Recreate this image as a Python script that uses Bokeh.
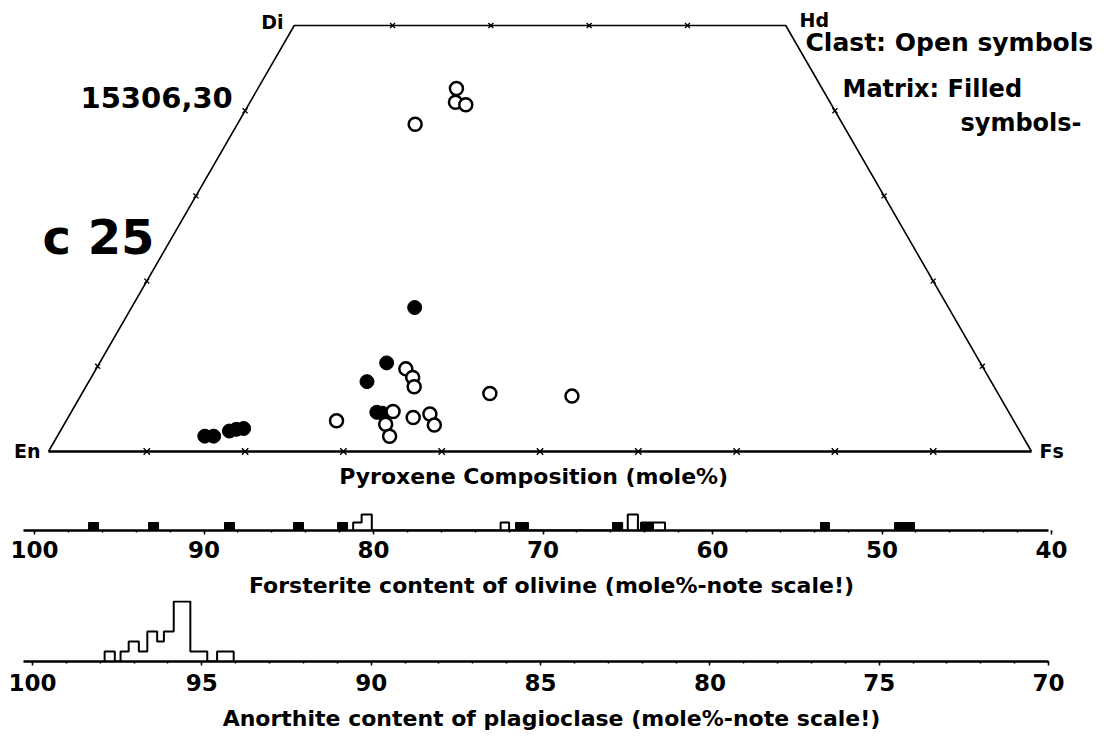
from bokeh.plotting import figure
from bokeh.models import Range1d, Label, FixedTicker
from bokeh.layouts import column
from bokeh.embed import file_html
from bokeh.resources import INLINE

FONT = "DejaVu Sans"

# ---------------- data ----------------
# quadrilateral corners, composition in mole % (Wo, Fs)
corner_names = ["En", "Di", "Hd", "Fs"]
corner_wo = [0, 50, 50, 0]
corner_fs = [0, 0, 50, 100]

# edge tick values (mole %)
bottom_fs_ticks = [10, 20, 30, 40, 50, 60, 70, 80, 90]
top_fs_ticks = [10, 20, 30, 40]
side_wo_ticks = [10, 20, 30, 40]

# pyroxenes in clast (open symbols)
clast_wo = [42.6, 41.0, 40.7, 38.4, 3.6, 9.7, 8.7, 7.6, 4.7, 3.2, 1.8, 4.0, 4.4, 3.1, 6.8, 6.5]
clast_fs = [20.2, 20.9, 22.1, 18.1, 27.5, 31.5, 32.7, 33.4, 32.7, 32.7, 33.8, 35.1, 36.6, 37.7, 41.5, 50.0]
# pyroxenes in matrix (filled symbols)
matrix_wo = [1.8, 1.8, 2.4, 2.6, 2.7, 16.9, 10.4, 8.2, 4.6, 4.5]
matrix_fs = [15.0, 15.9, 17.2, 17.8, 18.5, 28.8, 29.2, 28.3, 31.1, 31.7]

# olivine, forsterite content (mole %)
fo_ticks = [100, 90, 80, 70, 60, 50, 40]
ol_matrix_left = [96.81, 93.27, 88.79, 84.72, 82.12, 71.62, 65.90, 64.25, 53.63, 49.26]
ol_matrix_right = [96.22, 92.68, 88.20, 84.13, 81.53, 70.86, 65.30, 63.48, 53.10, 48.08]
ol_matrix_count = [1, 1, 1, 1, 1, 1, 1, 1, 1, 1]
ol_clast_edges = [81.20, 80.70, 80.10, 72.50, 72.00, 65.00, 64.40, 64.20, 62.80]
ol_clast_count = [1, 2, 0, 1, 0, 2, 0, 1]

# plagioclase, anorthite content (mole %)
an_ticks = [100, 95, 90, 85, 80, 75, 70]
pl_edges = [97.87, 97.57, 97.40, 97.16, 96.86, 96.61, 96.32, 96.12, 95.83, 95.34, 94.84, 94.55, 94.06]
pl_count = [1, 0, 1, 2, 1, 3, 2, 3, 6, 1, 0, 1]


def qx(wo, fs):
    # horizontal coordinate of the (equilateral) pyroxene quadrilateral
    return [f + w / 2.0 for w, f in zip(wo, fs)]


# --------------- pyroxene quadrilateral ---------------
PX, PY = 9.83, 8.52   # px per mole % along En-Fs, px per Wo
OX, OY = 48, 451      # En corner within the figure
W, H1 = 1102, 508


def sx(v):
    return (v - OX) / PX


def sy(v):
    return (OY - v) / PY


p1 = figure(width=W, height=H1, x_axis_type=None, y_axis_type=None,
            x_range=Range1d(sx(0), sx(W)), y_range=Range1d(sy(H1), sy(0)),
            toolbar_location=None, output_backend="svg",
            min_border=0, outline_line_color=None,
            background_fill_color="white", border_fill_color="white")

cx = qx(corner_wo, corner_fs)
p1.line(cx, corner_wo, line_color="black", line_width=1.6)
p1.line([cx[3], cx[0]], [corner_wo[3], corner_wo[0]], line_color="black", line_width=2.6)

tick_kw = dict(marker="x", line_color="black", line_width=1.4)
p1.scatter(qx([0] * len(bottom_fs_ticks), bottom_fs_ticks), [0] * len(bottom_fs_ticks), size=9, **tick_kw)
p1.scatter(qx([50] * len(top_fs_ticks), top_fs_ticks), [50] * len(top_fs_ticks), size=7, **tick_kw)
p1.scatter(qx(side_wo_ticks, [0] * len(side_wo_ticks)), side_wo_ticks, size=7, **tick_kw)
p1.scatter(qx(side_wo_ticks, [100 - w for w in side_wo_ticks]), side_wo_ticks, size=7, **tick_kw)

p1.scatter(qx(matrix_wo, matrix_fs), matrix_wo, marker="circle", size=14,
           fill_color="black", line_color="black", line_width=1)
p1.scatter(qx(clast_wo, clast_fs), clast_wo, marker="circle", size=13,
           fill_color="white", line_color="black", line_width=2.5)


def lab(p, x, y, text, size, align="left"):
    p.add_layout(Label(x=x, y=y, text=text, text_font=FONT, text_font_size=size,
                       text_font_style="bold", text_align=align,
                       text_baseline="middle", text_color="black"))


# label positions given as pixels (x, middle y), converted to data
def at(px, py):
    return sx(px), sy(py)


lab(p1, *at(283, 21), corner_names[1], "19px", "right")
lab(p1, *at(799, 19), corner_names[2], "19px")
lab(p1, *at(40, 450), corner_names[0], "19px", "right")
lab(p1, *at(1039, 450), corner_names[3], "19px")
lab(p1, *at(80, 97), "15306,30", "29px")
lab(p1, *at(42, 236), "c 25", "48px")
lab(p1, *at(805, 42), "Clast: Open symbols", "25px")
lab(p1, *at(842, 88), "Matrix: Filled", "24px")
lab(p1, *at(960, 122), "symbols-", "24px")
lab(p1, *at(537, 476), "Pyroxene Composition  (mole%)", "22px", "center")


# --------------- histogram strips ---------------
def strip(frame_h, xr, bounds, yr, ticks, minor, label, standoff):
    p = figure(width=W, frame_height=frame_h, x_range=xr, y_range=yr,
               y_axis_location=None, toolbar_location=None, output_backend="svg",
               min_border=0, outline_line_color=None,
               background_fill_color="white", border_fill_color="white")
    p.grid.visible = False
    ax = p.xaxis[0]
    ax.bounds = bounds
    ax.ticker = FixedTicker(ticks=ticks, minor_ticks=minor)
    ax.axis_line_width = 2.5
    ax.axis_line_color = "black"
    ax.major_tick_in = 0
    ax.major_tick_out = 4
    ax.major_tick_line_width = 1.5
    ax.minor_tick_in = 0
    ax.minor_tick_out = 2
    ax.minor_tick_line_width = 1.5
    ax.major_label_standoff = standoff
    ax.major_label_text_font = FONT
    ax.major_label_text_font_size = "23px"
    ax.major_label_text_font_style = "bold"
    ax.major_label_text_color = "black"
    ax.axis_label = label
    ax.axis_label_text_font = FONT
    ax.axis_label_text_font_size = "22px"
    ax.axis_label_text_font_style = "bold"
    ax.axis_label_text_color = "black"
    ax.axis_label_standoff = 12
    return p


def step_xy(edges, counts):
    return [edges[0]] + list(edges), [0] + list(counts) + [0]


# olivine: 16.95 px per mole %, Fo 100 at x 34
FO_PX = 16.95
p2 = strip(22, Range1d(100 + 34 / FO_PX, 100 - (W - 34) / FO_PX), (40.18, 100.65),
           Range1d(0, 2.75), fo_ticks, list(range(40, 101, 2)),
           "Forsterite content of olivine (mole%-note scale!)", 6)
ox_, oy_ = step_xy(ol_clast_edges, ol_clast_count)
p2.step(ox_, oy_, mode="after", line_color="black", line_width=2)
p2.quad(left=ol_matrix_left, right=ol_matrix_right, bottom=0, top=ol_matrix_count,
        fill_color="black", line_color="black", line_width=1)

# plagioclase: 33.87 px per mole %, An 100 at x 32
AN_PX = 33.87
p3 = strip(61, Range1d(100 + 32 / AN_PX, 100 - (W - 32) / AN_PX), (70.0, 100.27),
           Range1d(0, 6.1), an_ticks, list(range(70, 101, 1)),
           "Anorthite content of plagioclase (mole%-note scale!)", 8)
px_, py_ = step_xy(pl_edges, pl_count)
p3.step(px_, py_, mode="after", line_color="black", line_width=2)

layout = column(p1, p2, p3, spacing=0)
open("out.html", "w").write(file_html(layout, INLINE))
